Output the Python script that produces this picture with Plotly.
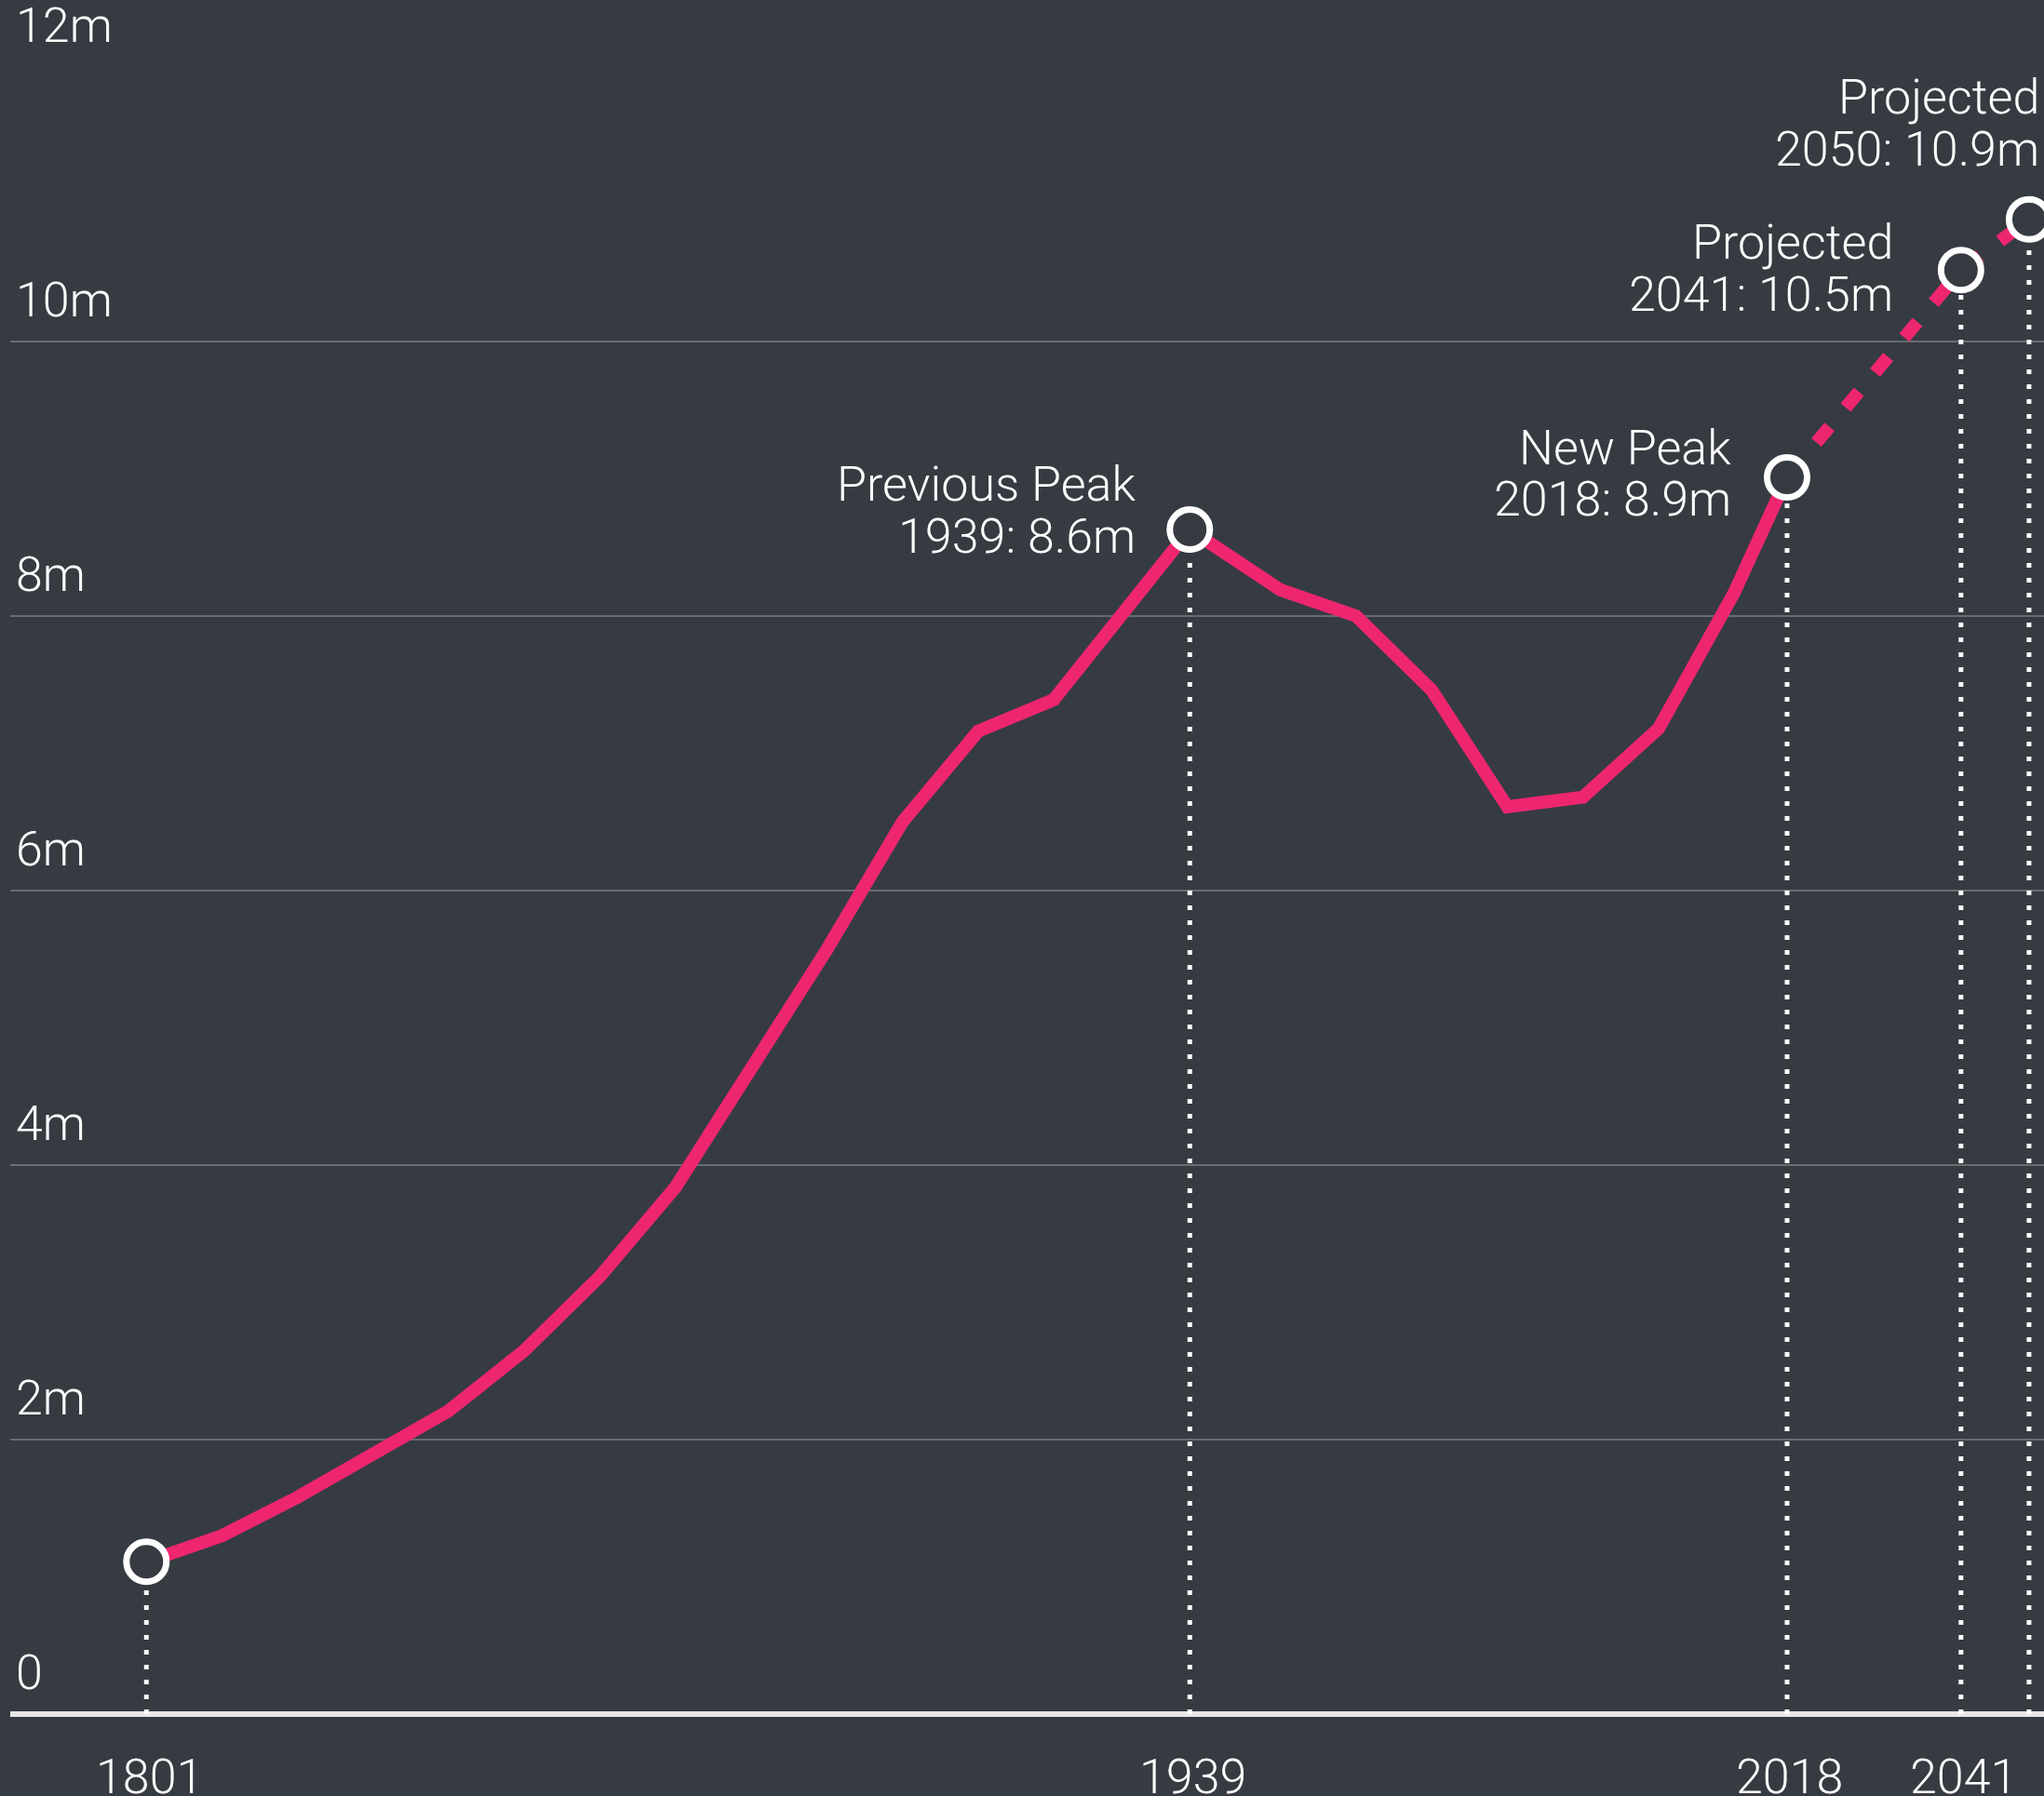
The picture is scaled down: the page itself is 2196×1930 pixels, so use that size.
import plotly.graph_objects as go

# ---------------- data ----------------
years = [1801, 1811, 1821, 1831, 1841, 1851, 1861, 1871, 1881, 1891, 1901, 1911,
         1921, 1931, 1939, 1951, 1961, 1971, 1981, 1991, 2001, 2011, 2015, 2018]
population = [1.11, 1.30, 1.58, 1.89, 2.21, 2.65, 3.19, 3.84, 4.71, 5.57, 6.50, 7.16,
              7.39, 8.10, 8.63, 8.19, 8.00, 7.46, 6.61, 6.68, 7.18, 8.17, 8.68, 9.01]

proj_years = [2018, 2041, 2050]
proj_population = [9.01, 10.52, 10.89]

highlight_years = [1801, 1939, 2018, 2041, 2050]
highlight_population = [1.11, 8.63, 9.01, 10.52, 10.89]

label_years = [1939, 2018, 2041, 2050]
label_population = [8.63, 9.01, 10.52, 10.89]
label_titles = ["Previous Peak", "New Peak", "Projected", "Projected"]
label_values = ["1939: 8.6m", "2018: 8.9m", "2041: 10.5m", "2050: 10.9m"]

y_tick_values = [0, 2, 4, 6, 8, 10, 12]
y_tick_labels = ["0", "2m", "4m", "6m", "8m", "10m", "12m"]

x_tick_values = [1801, 1939, 2018, 2041]
x_tick_labels = ["1801", "1939", "2018", "2041"]

# ---------------- style ----------------
BG = "#363B42"
PINK = "#EE2670"
WHITE = "#FFFFFF"
FONT = dict(family="'Roboto Light', Roboto, 'Liberation Sans', sans-serif", size=52,
            color=WHITE, weight=300)
CENTER_OFF = 18  # baseline sits ~0.34em below the middle anchor

# label placement (pixels): right-edge offset from point, baselines relative to point
label_xshift = [-58, -60, -73, 11]
label_base1 = [-31, -14, -12, -113]
label_base2 = [25, 41, 44, -57]

fig = go.Figure()

# dotted vertical guide lines
vx, vy = [], []
for yr, val in zip(highlight_years, highlight_population):
    vx += [yr, yr, None]
    vy += [0, val, None]
fig.add_trace(go.Scatter(x=vx, y=vy, mode="lines",
                         line=dict(color=WHITE, width=5, dash="5px,11px"),
                         hoverinfo="skip", showlegend=False, cliponaxis=False))

# historical solid line
fig.add_trace(go.Scatter(x=years, y=population, mode="lines",
                         line=dict(color=PINK, width=14),
                         showlegend=False, cliponaxis=False))

# projected dashed line
fig.add_trace(go.Scatter(x=proj_years, y=proj_population, mode="lines",
                         line=dict(color=PINK, width=14, dash="22px,27px"),
                         showlegend=False, cliponaxis=False))

# highlighted circles
fig.add_trace(go.Scatter(x=highlight_years, y=highlight_population, mode="markers",
                         marker=dict(size=43, color=BG, line=dict(color=WHITE, width=7)),
                         showlegend=False, cliponaxis=False))

annotations = []
# y tick labels
for v, t in zip(y_tick_values, y_tick_labels):
    annotations.append(dict(x=0, xref="paper", y=v, yref="y", text=t, showarrow=False,
                            xanchor="left", yanchor="middle", xshift=4,
                            yshift=27 + CENTER_OFF, font=FONT))
# x tick labels
for v, t in zip(x_tick_values, x_tick_labels):
    annotations.append(dict(x=v, xref="x", y=0, yref="y", text=t, showarrow=False,
                            xanchor="center", yanchor="middle", xshift=3,
                            yshift=-(85 - CENTER_OFF), font=FONT))
# point labels
for yr, val, t1, t2, xs, b1, b2 in zip(label_years, label_population, label_titles,
                                       label_values, label_xshift, label_base1, label_base2):
    annotations.append(dict(x=yr, xref="x", y=val, yref="y", text=t1, showarrow=False,
                            xanchor="right", yanchor="middle", xshift=xs + 2,
                            yshift=-(b1 - CENTER_OFF), font=FONT))
    annotations.append(dict(x=yr, xref="x", y=val, yref="y", text=t2, showarrow=False,
                            xanchor="right", yanchor="middle", xshift=xs + 2,
                            yshift=-(b2 - CENTER_OFF), font=FONT))

fig.update_layout(
    width=2196, height=1930,
    paper_bgcolor=BG, plot_bgcolor=BG,
    margin=dict(l=11, r=0, t=72, b=88, pad=0),
    showlegend=False,
    xaxis=dict(range=[1782.99, 2051.98], showgrid=False, zeroline=False,
               showticklabels=False, ticks="", showline=False, fixedrange=True),
    yaxis=dict(range=[0, 12], tickvals=y_tick_values, showticklabels=False,
               showgrid=True, gridcolor="#686C70", gridwidth=2,
               zeroline=True, zerolinecolor="#E6E6E6", zerolinewidth=6,
               ticks="", showline=False, fixedrange=True),
    annotations=annotations,
)

fig.write_html(
    "out.html",
    config={"displayModeBar": False},
    post_script="document.body.style.margin='0';document.body.style.padding='0';"
                "document.body.style.overflow='hidden';"
                "document.body.style.background='" + BG + "';",
)
